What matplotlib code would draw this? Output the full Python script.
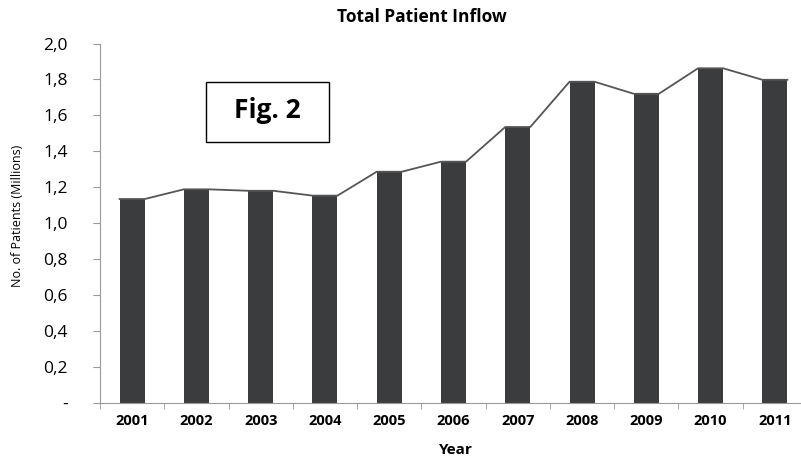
import matplotlib.pyplot as plt
from matplotlib.patches import Rectangle

years = ["2001", "2002", "2003", "2004", "2005", "2006", "2007", "2008", "2009", "2010", "2011"]
patients = [1.134, 1.188, 1.180, 1.153, 1.286, 1.342, 1.535, 1.787, 1.720, 1.862, 1.798]
ytick_vals = [0, 0.2, 0.4, 0.6, 0.8, 1.0, 1.2, 1.4, 1.6, 1.8, 2.0]
ytick_labels = ["-", "0,2", "0,4", "0,6", "0,8", "1,0", "1,2", "1,4", "1,6", "1,8", "2,0"]

plt.rcParams['font.family'] = ['Open Sans', 'DejaVu Sans']

W, H = 801, 459
fig = plt.figure(figsize=(W / 100, H / 100), dpi=100)
# axes runs a bit past the right edge, like the cropped original
ax = fig.add_axes([100 / W, 1 - 402.7 / H, 707 / W, 359.2 / H])

bw = 0.39
x = list(range(len(years)))
ax.bar(x, patients, width=bw, color='#3b3c3e', zorder=2)

# line along the bar tops, corner to corner
lx, ly = [], []
for xi, v in zip(x, patients):
    lx += [xi - bw / 2, xi + bw / 2]
    ly += [v, v]
ax.plot(lx, ly, color='#555555', lw=1.3, zorder=3)

ax.set_xlim(-0.5, len(years) - 0.5)
ax.set_ylim(0, 2.0)
ax.set_yticks(ytick_vals)
ax.set_yticklabels(ytick_labels, fontsize=12.5)
ax.set_xticks(x)
ax.set_xticklabels(years, fontsize=10.5, fontweight='bold')
ax.set_xticks([i - 0.5 for i in range(len(years) + 1)], minor=True)
ax.tick_params(axis='x', which='major', length=0, pad=8)
ax.tick_params(axis='x', which='minor', length=4, color='#999999')
ax.tick_params(axis='y', length=5, color='#999999', pad=18)
for s in ['top', 'right']:
    ax.spines[s].set_visible(False)
for s in ['left', 'bottom']:
    ax.spines[s].set_color('#999999')

fig.text(422 / W, 1 - 17 / H, "Total Patient Inflow", ha='center', va='center',
         fontsize=12.5, fontweight='bold')
fig.text(456 / W, 1 - 450 / H, "Year", ha='center', va='center', fontsize=11, fontweight='bold')
fig.text(18 / W, 1 - 216 / H, "No. of Patients (Millions)", ha='center', va='center',
         fontsize=9, rotation=90)

fig.add_artist(Rectangle((205.7 / W, 1 - 141.7 / H), 123.3 / W, 60 / H,
                         transform=fig.transFigure, fill=False, ec='black', lw=1))
fig.text(267 / W, 1 - 111 / H, "Fig. 2", ha='center', va='center', fontsize=19, fontweight='bold')

fig.savefig("out.png", dpi=100)
